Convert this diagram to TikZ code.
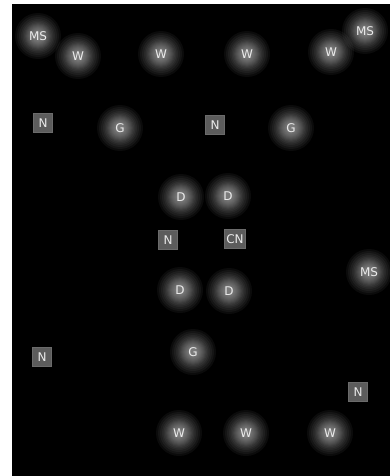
\documentclass[tikz,border=0pt]{standalone}
\usepackage{fontspec}
\setmainfont{DejaVu Sans}
\definecolor{txt}{gray}{0.92}
\definecolor{boxfill}{gray}{0.36}
\definecolor{boxline}{gray}{0.42}
\tikzset{
  lbl/.style={text=txt, font=\fontsize{12}{14}\selectfont, inner sep=0pt},
  glownode/.style={lbl, circle, minimum size=14pt},
  nbox/.style={lbl, fill=boxfill, draw=boxline, line width=0.5pt, minimum width=19pt, minimum height=19pt, inner sep=2pt},
  halo/.style={fill=white, fill opacity=0.045},
}
\newcommand{\glowat}[3]{%
  \foreach \rr in {23,21,19,17,15.5,14,13,12,11,10,9,8,7,6,5,4} {\fill[halo] (#2) circle[radius=\rr];}
  \node[glownode] (#1) at (#2) {#3};}
\begin{document}
\begin{tikzpicture}[x=1pt,y=-1pt]
\useasboundingbox (0,0) rectangle (390,476);
\fill[white] (0,0) rectangle (390,476);
\fill[black] (12,4) rectangle (390,476);
\begin{scope}
\clip (12,4) rectangle (390,476);
\glowat{ms1}{38,36}{MS}
\glowat{w1}{78,56}{W}
\glowat{w2}{161,54}{W}
\glowat{w3}{247,54}{W}
\glowat{w4}{331,52}{W}
\glowat{ms2}{365,31}{MS}
\glowat{g1}{120,128}{G}
\glowat{g2}{291,128}{G}
\glowat{d1}{181,197}{D}
\glowat{d2}{228,196}{D}
\glowat{d3}{180,290}{D}
\glowat{d4}{229,291}{D}
\glowat{ms3}{369,272}{MS}
\glowat{g3}{193,352}{G}
\glowat{w5}{179,433}{W}
\glowat{w6}{246,433}{W}
\glowat{w7}{330,433}{W}
\end{scope}
\node[nbox] (n1) at (43,123) {N};
\node[nbox] (n2) at (215,125) {N};
\node[nbox] (n3) at (168,240) {N};
\node[nbox] (cn) at (235,239) {CN};
\node[nbox] (n4) at (42,357) {N};
\node[nbox] (n5) at (358,392) {N};
\end{tikzpicture}
\end{document}
